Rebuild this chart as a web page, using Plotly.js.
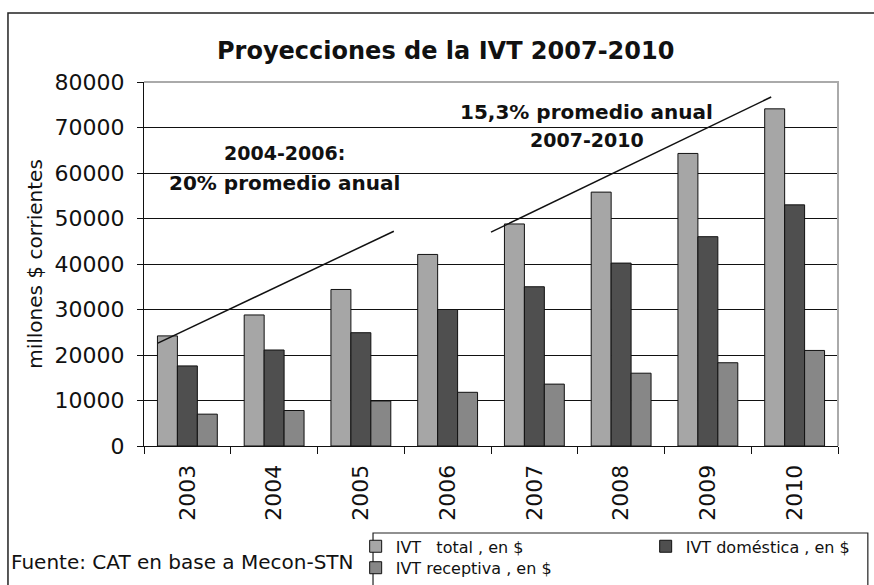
<!DOCTYPE html>
<html>
<head>
<meta charset="utf-8">
<script src="https://cdn.plot.ly/plotly-3.0.1.min.js"></script>
<style>
  html, body { margin: 0; padding: 0; background: white; }
  #plot { width: 874px; height: 585px; }
</style>
</head>
<body>
<div id="plot"></div>
<script>
// Data
const years = ["2003", "2004", "2005", "2006", "2007", "2008", "2009", "2010"];
const ivtTotal = [24200, 28800, 34400, 42100, 48800, 55800, 64300, 74100];
const ivtDomestica = [17600, 21100, 24900, 30000, 35000, 40200, 46000, 53000];
const ivtReceptiva = [7000, 7800, 9900, 11800, 13600, 16000, 18300, 21000];

// Trend lines (category index, value)
const trend0406X = [-0.34, 2.38];
const trend0406Y = [22600, 47200];
const trend0710X = [3.5, 6.73];
const trend0710Y = [47000, 76700];

const FONT = "DejaVu Sans, Liberation Sans, Arial, sans-serif";
const INK = "#111";

const traces = [
  {
    x: years, y: ivtTotal, type: "bar", name: "IVT   total , en $",
    marker: { color: "#a6a6a6", line: { color: INK, width: 1 } },
    legend: "legend"
  },
  {
    x: years, y: ivtDomestica, type: "bar", name: "IVT doméstica , en $",
    marker: { color: "#4f4f4f", line: { color: INK, width: 1 } },
    legend: "legend"
  },
  {
    x: years, y: ivtReceptiva, type: "bar", name: "IVT receptiva , en $",
    marker: { color: "#878787", line: { color: INK, width: 1 } },
    legend: "legend2"
  }
];

const legendBase = {
  orientation: "h",
  x: 0.305, xanchor: "left",
  yanchor: "top",
  bgcolor: "rgba(0,0,0,0)",
  borderwidth: 0,
  font: { family: FONT, size: 16, color: INK },
  itemwidth: 30
};

const layout = {
  width: 874,
  height: 585,
  margin: { l: 144, r: 36, t: 82, b: 139, autoexpand: false },
  paper_bgcolor: "white",
  plot_bgcolor: "white",
  font: { family: FONT, color: INK },
  title: {
    text: "<b>Proyecciones de la IVT 2007-2010</b>",
    font: { size: 24, family: FONT, color: INK },
    x: 0.51, xanchor: "center",
    y: 0.914, yanchor: "middle"
  },
  barmode: "group",
  bargap: 0.31,
  bargroupgap: 0,
  showlegend: true,
  legend: Object.assign({}, legendBase, { y: -0.229, entrywidth: 245 }),
  legend2: Object.assign({}, legendBase, { y: -0.288 }),
  xaxis: {
    type: "category",
    tickangle: -90,
    tickson: "boundaries",
    ticks: "outside", ticklen: 7, tickcolor: INK,
    ticklabelstandoff: 9,
    showline: true, linecolor: INK, linewidth: 1,
    showgrid: false,
    tickfont: { size: 22, family: FONT, color: INK },
    fixedrange: true
  },
  yaxis: {
    range: [0, 80000],
    dtick: 10000,
    tickformat: "d",
    ticks: "outside", ticklen: 6, tickcolor: INK,
    ticklabelstandoff: 8,
    showline: true, linecolor: INK, linewidth: 1,
    showgrid: true, gridcolor: INK, gridwidth: 1,
    zeroline: false,
    tickfont: { size: 22, family: FONT, color: INK },
    title: {
      text: "millones $ corrientes",
      font: { size: 20, family: FONT, color: INK },
      standoff: 6
    },
    fixedrange: true
  },
  shapes: [
    // outer frame (runs off the right and bottom of the picture)
    {
      type: "rect", xref: "paper", yref: "paper",
      x0: -0.196, x1: 1.2, y0: -0.6, y1: 1.1896,
      line: { color: "#222", width: 1.5 }, layer: "below"
    },
    // legend box (runs off the bottom)
    {
      type: "rect", xref: "paper", yref: "paper",
      x0: 0.330, x1: 1.043, y0: -0.6, y1: -0.239,
      line: { color: "#222", width: 1.2 }, layer: "below"
    },
    // grey plot-area border on top and right
    {
      type: "path", xref: "paper", yref: "paper",
      path: "M 0 1 L 1 1 L 1 0",
      line: { color: "#aaaaaa", width: 2 }, layer: "above"
    },
    {
      type: "line", xref: "x", yref: "y",
      x0: trend0406X[0], x1: trend0406X[1], y0: trend0406Y[0], y1: trend0406Y[1],
      line: { color: INK, width: 1.5 }
    },
    {
      type: "line", xref: "x", yref: "y",
      x0: trend0710X[0], x1: trend0710X[1], y0: trend0710Y[0], y1: trend0710Y[1],
      line: { color: INK, width: 1.5 }
    }
  ],
  annotations: [
    {
      text: "<b>2004-2006:</b>", xref: "paper", yref: "y", x: 0.203, y: 64400,
      xanchor: "center", showarrow: false, font: { size: 19, family: FONT, color: INK }
    },
    {
      text: "<b>20% promedio anual</b>", xref: "paper", yref: "y", x: 0.203, y: 57800,
      xanchor: "center", showarrow: false, font: { size: 20, family: FONT, color: INK }
    },
    {
      text: "<b>15,3% promedio anual</b>", xref: "paper", yref: "y", x: 0.638, y: 73400,
      xanchor: "center", showarrow: false, font: { size: 20, family: FONT, color: INK }
    },
    {
      text: "<b>2007-2010</b>", xref: "paper", yref: "y", x: 0.638, y: 67250,
      xanchor: "center", showarrow: false, font: { size: 19, family: FONT, color: INK }
    },
    {
      text: "Fuente: CAT en base a Mecon-STN", xref: "paper", yref: "paper",
      x: -0.194, xanchor: "left", y: -0.32, yanchor: "middle",
      showarrow: false, font: { size: 20, family: FONT, color: INK }
    }
  ]
};

Plotly.newPlot("plot", traces, layout, { displayModeBar: false, staticPlot: true });
</script>
</body>
</html>
